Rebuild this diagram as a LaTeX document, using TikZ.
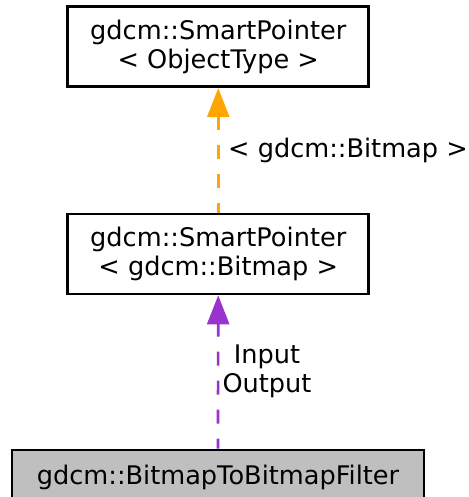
\documentclass[tikz,border=0pt]{standalone}
\usepackage{fontspec}
\setmainfont{DejaVu Sans}
\usetikzlibrary{arrows.meta}
\definecolor{dorange}{HTML}{FFA500}
\definecolor{dpurple}{HTML}{9A32CD}
\definecolor{dgray}{HTML}{BFBFBF}
\tikzset{
  classbox/.style = {draw, line width=2.7pt, rectangle, minimum width=301pt,
                     minimum height=80pt, align=center, inner sep=0pt},
  usage/.style    = {-{Triangle[length=29pt,width=22pt]}, line width=2.7pt,
                     dash pattern=on 14pt off 15pt, dash phase=4pt},
  elabel/.style   = {inner sep=0pt, align=center},
}

\begin{document}
\begin{tikzpicture}[x=1pt, y=-1pt, font=\fontsize{25.6}{29}\selectfont]
\useasboundingbox (0,0) rectangle (468,497);
% ---- the three classes ----
\node[classbox] (sptemplate) at (218.25,46.75) {gdcm::SmartPointer\\< ObjectType >};
\node[classbox] (spbitmap) at (218.25,254) {gdcm::SmartPointer\\< gdcm::Bitmap >};
\node[classbox, fill=dgray, minimum width=412pt, minimum height=50pt, text depth=0pt]
     (filter) at (218,475) {gdcm::BitmapToBitmapFilter};
% ---- usage edges ----
\draw[usage, dorange] (spbitmap) -- (sptemplate);
\draw[usage, dpurple] (filter) -- (spbitmap);
% ---- edge labels ----
\node[elabel, anchor=west] (tmplarg) at (228,150) {< gdcm::Bitmap >};
\node[elabel] (members) at (267,371) {Input\\Output};
\end{tikzpicture}
\end{document}
